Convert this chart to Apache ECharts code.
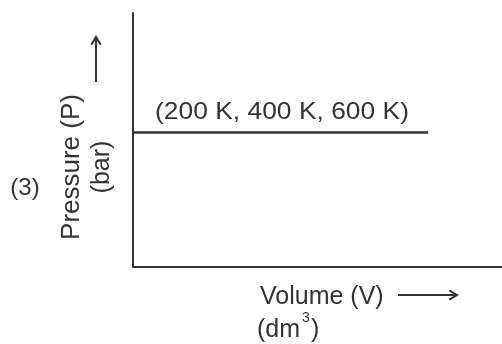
<!DOCTYPE html>
<html>
<head>
<meta charset="utf-8">
<script src="https://cdn.jsdelivr.net/npm/echarts@6/dist/echarts.min.js"></script>
<style>
  html, body { margin: 0; padding: 0; background: #fff; }
  #chart { width: 502px; height: 344px; }
</style>
</head>
<body>
<div id="chart"></div>
<script>
// isotherm at constant pressure (schematic, no tick values)
const volume = [0, 8];
const pressure = [5.3, 5.3];
const isothermLabel = '(200 K, 400 K, 600 K)';

const INK = '#333';
const FONT = '"Liberation Sans", Arial, sans-serif';

const chart = echarts.init(document.getElementById('chart'));

// little arrow made of a shaft and an open head
function arrow(x1, y1, x2, y2) {
  const ang = Math.atan2(y2 - y1, x2 - x1);
  const h = 9, spread = 0.55;
  const p1 = [x2 - h * Math.cos(ang - spread), y2 - h * Math.sin(ang - spread)];
  const p2 = [x2 - h * Math.cos(ang + spread), y2 - h * Math.sin(ang + spread)];
  return {
    type: 'group',
    children: [
      { type: 'line', shape: { x1, y1, x2, y2 }, style: { stroke: INK, lineWidth: 2 } },
      { type: 'polyline', shape: { points: [p1, [x2, y2], p2] }, style: { stroke: INK, lineWidth: 2, fill: null } }
    ]
  };
}

function label(x, y, text, size, extra) {
  return Object.assign({
    type: 'text',
    style: { x, y, text, font: size + 'px ' + FONT, fill: INK, align: 'left', verticalAlign: 'middle' }
  }, extra || {});
}

chart.setOption({
  animation: false,
  grid: { left: 133, right: 0, top: 13, bottom: 77 },
  xAxis: {
    type: 'value',
    min: 0,
    max: 10,
    axisLine: { show: true, onZero: false, lineStyle: { color: INK, width: 2 } },
    axisTick: { show: false },
    axisLabel: { show: false },
    splitLine: { show: false }
  },
  yAxis: {
    type: 'value',
    min: 0,
    max: 10,
    axisLine: { show: true, onZero: false, lineStyle: { color: INK, width: 2 } },
    axisTick: { show: false },
    axisLabel: { show: false },
    splitLine: { show: false }
  },
  series: [
    {
      type: 'line',
      data: volume.map((v, i) => [v, pressure[i]]),
      symbol: 'none',
      lineStyle: { color: INK, width: 2.5 }
    }
  ],
  graphic: [
    {
      type: 'text',
      x: 282, y: 112, scaleX: 1.1,
      style: { x: 0, y: 0, text: isothermLabel, font: '24px ' + FONT, fill: INK, align: 'center', verticalAlign: 'middle' }
    },
    label(260, 297, 'Volume (V)', 25),
    arrow(398, 295, 457, 295),
    // (dm^3) with a raised exponent
    label(257, 330, '(dm', 25),
    label(302, 318, '3', 14),
    label(311, 330, ')', 25),
    {
      type: 'text',
      x: 72, y: 167, rotation: Math.PI / 2,
      style: { x: 0, y: 0, text: 'Pressure (P)', font: '26px ' + FONT, fill: INK, align: 'center', verticalAlign: 'middle' }
    },
    {
      type: 'text',
      x: 102, y: 167, rotation: Math.PI / 2,
      style: { x: 0, y: 0, text: '(bar)', font: '25px ' + FONT, fill: INK, align: 'center', verticalAlign: 'middle' }
    },
    arrow(96, 82, 96, 37),
    {
      type: 'text',
      style: { x: 25, y: 188, text: '(3)', font: '24px ' + FONT, fill: INK, align: 'center', verticalAlign: 'middle' }
    }
  ]
});
</script>
</body>
</html>
